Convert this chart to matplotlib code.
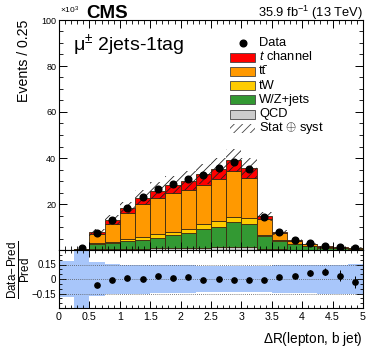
import numpy as np
import matplotlib
matplotlib.use("Agg")
import matplotlib.pyplot as plt
from matplotlib.patches import Rectangle

plt.rcParams['font.family'] = ['Liberation Sans', 'DejaVu Sans']
plt.rcParams['mathtext.fontset'] = 'custom'
plt.rcParams['mathtext.rm'] = 'Liberation Sans'
plt.rcParams['mathtext.it'] = 'Liberation Sans:italic'
plt.rcParams['mathtext.bf'] = 'Liberation Sans:bold'
plt.rcParams['hatch.linewidth'] = 0.6

# ---------------- data (in units of 10^3 events) ----------------
bin_edges = np.arange(0, 5.0001, 0.25)
qcd    = [0.0, 0.05, 0.3, 0.4, 0.5, 0.6, 0.7, 0.8, 0.9, 1.0, 1.1, 1.2, 1.1, 0.5, 0.3, 0.2, 0.1, 0.05, 0.05, 0.05]
wzjets = [0.0, 0.2, 2.2, 2.8, 3.4, 3.7, 4.7, 5.6, 6.6, 8.3, 9.0, 10.8, 10.4, 5.6, 3.6, 2.4, 1.6, 0.95, 0.65, 0.55]
tw     = [0.0, 0.02, 0.4, 0.4, 0.7, 1.5, 1.4, 1.6, 1.5, 1.9, 2.5, 2.5, 2.3, 0.5, 0.3, 0.2, 0.2, 0.2, 0.1, 0.1]
ttbar  = [0.0, 0.08, 3.96, 7.79, 11.32, 14.19, 16.0, 16.62, 17.1, 17.23, 18.42, 19.78, 17.45, 6.75, 3.0, 1.17, 0.67, 0.32, 0.28, 0.28]
tchan  = [0.0, 0.05, 0.8, 1.7, 2.3, 2.8, 3.0, 3.6, 4.0, 4.5, 4.3, 4.7, 4.2, 1.3, 0.55, 0.25, 0.15, 0.1, 0.05, 0.05]
data   = [np.nan, 0.74, 7.2, 13.0, 18.4, 22.9, 26.5, 28.5, 30.7, 32.6, 35.5, 38.4, 35.1, 14.5, 7.9, 4.35, 2.9, 1.74, 1.17, 1.0]
ratio_err = [0, 0, 0.015, 0.01, 0.01, 0.01, 0.01, 0.01, 0.01, 0.01, 0.01, 0.01, 0.01, 0.012, 0.015, 0.02, 0.03, 0.035, 0.055, 0.06]
rel_unc = [0.19, 0.6, 0.18, 0.16, 0.15, 0.15, 0.14, 0.14, 0.14, 0.13, 0.13, 0.13, 0.13, 0.13, 0.14, 0.14, 0.14, 0.15, 0.15, 0.16]

names  = ['QCD', 'W/Z+jets', 'tW', 'tt\u0304', r'$t$ channel']
colors = ['#cccccc', '#339933', '#ffcc00', '#ff9900', '#ff0000']
comps  = [qcd, wzjets, tw, ttbar, tchan]

# ---------------- figure ----------------
W, H = 374, 357
fig = plt.figure(figsize=(W / 100, H / 100), dpi=100)
L, R = 59, 363
ax = fig.add_axes([L / W, (H - 250) / H, (R - L) / W, 230 / H])
rax = fig.add_axes([L / W, (H - 308) / H, (R - L) / W, 58 / H])

lefts = bin_edges[:-1]
width = np.diff(bin_edges)
centers = lefts + width / 2
bottom = np.zeros(len(lefts))
for vals, col in zip(comps, colors):
    v = np.array(vals)
    ax.bar(lefts, v, width=width, bottom=bottom, align='edge', color=col,
           edgecolor='#3a2a10', linewidth=0.6)
    bottom = bottom + v
total = bottom
unc = total * np.array(rel_unc)
unc_main = np.where(np.arange(len(total)) == 1, 0, unc)
ax.bar(lefts, 2 * unc_main, width=width, bottom=total - unc_main, align='edge',
       facecolor='none', edgecolor='#222222', hatch='////', linewidth=0)
dvals = np.array(data)
ax.plot(centers, dvals, 'o', color='black', ms=4.8, zorder=5)

ax.set_xlim(0, 5)
ax.set_ylim(0, 100)
ax.set_xticks(np.arange(0, 5.01, 0.5))
ax.set_xticks(np.arange(0, 5.01, 0.1), minor=True)
ax.set_yticks(np.arange(20, 101, 20))
ax.set_yticks(np.arange(0, 101, 5), minor=True)
ax.tick_params(which='both', direction='in', top=True, right=True, labelbottom=False)
ax.tick_params(which='major', length=6, width=0.7)
ax.tick_params(which='minor', length=3, width=0.6)
ax.tick_params(axis='y', labelsize=6.5, pad=2)
ax.set_ylabel('Events / 0.25', fontsize=10.2, loc='top', labelpad=7)
for s in ax.spines.values():
    s.set_linewidth(0.8)

# texts
fig.text(L / W + 0.002, 1 - 14 / H, r'$\times10^{3}$', fontsize=6, ha='left', va='baseline')
fig.text(86 / W, 1 - 18 / H, 'CMS', fontsize=13.5, fontweight='bold', ha='left', va='baseline')
fig.text(R / W, 1 - 17 / H, r'35.9 fb$^{-1}$ (13 TeV)', fontsize=9.3, ha='right', va='baseline')
ax.text(0.046, 0.89, r'μ$^{\pm}$ 2jets-1tag', fontsize=14, transform=ax.transAxes, ha='left', va='center')

# legend (manual)
def yfrac(ypix):
    return (250 - ypix) / 230
lx = (230 - L) / (R - L)
lw = 25 / (R - L)
lh = 9 / 230
tx = (259 - L) / (R - L)
LFS = 9.3
ax.plot([lx + lw / 2], [yfrac(42.5)], 'o', color='black', ms=4.8, transform=ax.transAxes, clip_on=False)
ax.text(tx, yfrac(42.5), 'Data', fontsize=LFS, transform=ax.transAxes, va='center')
leg_items = list(zip(names, colors))[::-1]
for i, (nm, col) in enumerate(leg_items):
    yc = yfrac(57 + 14.3 * i)
    ax.add_patch(Rectangle((lx, yc - lh / 2), lw, lh, transform=ax.transAxes,
                           facecolor=col, edgecolor='#444444', linewidth=0.6))
    ax.text(tx, yc, nm, fontsize=LFS, transform=ax.transAxes, va='center')
yc = yfrac(57 + 14.3 * 5)
ax.add_patch(Rectangle((lx, yc - lh / 2), lw, lh, transform=ax.transAxes,
                       facecolor='white', edgecolor='#444444', hatch='////', linewidth=0))
ax.text(tx, yc, r'Stat $\oplus$ syst', fontsize=LFS, transform=ax.transAxes, va='center')

# ---------------- ratio ----------------
ratio = (dvals - total) / np.where(total > 0, total, np.nan)
ru = np.array(rel_unc)
rax.bar(lefts, 2 * ru, width=width, bottom=-ru, align='edge', color='#a8c6fa',
        edgecolor='none', linewidth=0)
for yv in (0.15, 0, -0.15):
    rax.axhline(yv, color='#555555', ls=(0, (1, 1.5)), lw=0.6)
rax.errorbar(centers, ratio, yerr=ratio_err, fmt='o', color='black', ms=3.8,
             elinewidth=0.7, capsize=0)
rax.set_xlim(0, 5)
rax.set_ylim(-0.3, 0.3)
rax.set_xticks(np.arange(0, 5.01, 0.5))
rax.set_xticklabels(['0', '0.5', '1', '1.5', '2', '2.5', '3', '3.5', '4', '4.5', '5'])
rax.set_xticks(np.arange(0, 5.01, 0.1), minor=True)
rax.set_yticks([-0.15, 0, 0.15])
rax.set_yticklabels(['\u22120.15', '0', '0.15'])
rax.set_yticks(np.arange(-0.3, 0.31, 0.05), minor=True)
rax.tick_params(which='both', direction='in', top=True, right=True)
rax.tick_params(which='major', length=5, width=0.7)
rax.tick_params(which='minor', length=2.5, width=0.6)
rax.tick_params(axis='x', labelsize=7.7, pad=3)
rax.tick_params(axis='y', labelsize=7, pad=2)
for s in rax.spines.values():
    s.set_linewidth(0.8)
rax.set_xlabel(r'$\Delta$R(lepton, b jet)', fontsize=9.8, loc='right', labelpad=6)
fig.text(19 / W, 1 - 270 / H, r'$\frac{\mathrm{Data\!-\!Pred}}{\mathrm{Pred}}$', fontsize=12,
         rotation=90, ha='center', va='center')

fig.savefig('out.png', dpi=100)
